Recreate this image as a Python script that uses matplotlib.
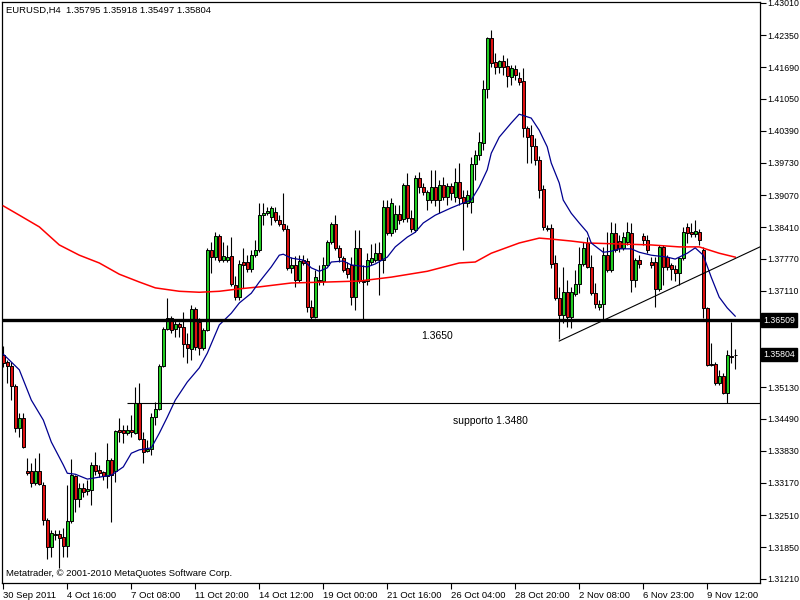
# EURUSD H4 candlestick chart, MetaTrader style
import matplotlib
matplotlib.use("Agg")
import matplotlib.pyplot as plt
from matplotlib.transforms import blended_transform_factory

# OHLC values, one per H4 bar
opens = [1.3579, 1.3565, 1.3557, 1.3516, 1.3430, 1.3450, 1.3341, 1.3341, 1.3317, 1.3341,
         1.3313, 1.3241, 1.3186, 1.3212, 1.3212, 1.3206, 1.3188, 1.3239, 1.3331, 1.3284,
         1.3307, 1.3300, 1.3303, 1.3354, 1.3344, 1.3339, 1.3331, 1.3364, 1.3341, 1.3426,
         1.3426, 1.3419, 1.3426, 1.3419, 1.3481, 1.3407, 1.3382, 1.3387, 1.3452, 1.3469,
         1.3557, 1.3633, 1.3655, 1.3633, 1.3643, 1.3637, 1.3602, 1.3592, 1.3674, 1.3647,
         1.3594, 1.3631, 1.3795, 1.3780, 1.3823, 1.3774, 1.3774, 1.3782, 1.3723, 1.3698,
         1.3770, 1.3770, 1.3756, 1.3784, 1.3795, 1.3866, 1.3870, 1.3862, 1.3872, 1.3856,
         1.3848, 1.3838, 1.3758, 1.3764, 1.3733, 1.3774, 1.3772, 1.3678, 1.3657, 1.3733,
         1.3731, 1.3764, 1.3811, 1.3848, 1.3799, 1.3778, 1.3758, 1.3764, 1.3698, 1.3799,
         1.3731, 1.3731, 1.3770, 1.3774, 1.3788, 1.3774, 1.3883, 1.3829, 1.3838, 1.3868,
         1.3858, 1.3928, 1.3860, 1.3836, 1.3942, 1.3924, 1.3897, 1.3897, 1.3924, 1.3897,
         1.3928, 1.3903, 1.3926, 1.3903, 1.3934, 1.3903, 1.3891, 1.3893, 1.3971, 1.3989,
         1.4014, 1.4125, 1.4229, 1.4180, 1.4170, 1.4182, 1.4172, 1.4149, 1.4166, 1.4147,
         1.4141, 1.4045, 1.4030, 1.4008, 1.3979, 1.3920, 1.3840, 1.3840, 1.3768, 1.3696,
         1.3661, 1.3708, 1.3657, 1.3704, 1.3725, 1.3766, 1.3809, 1.3760, 1.3706, 1.3678,
         1.3684, 1.3784, 1.3754, 1.3829, 1.3813, 1.3799, 1.3811, 1.3829, 1.3733, 1.3774,
         1.3823, 1.3815, 1.3770, 1.3770, 1.3715, 1.3801, 1.3780, 1.3764, 1.3756, 1.3747,
         1.3778, 1.3842, 1.3831, 1.3827, 1.3831, 1.3795, 1.3676, 1.3561, 1.3561, 1.3522,
         1.3536, 1.3501, 1.3577, 1.35795]
highs = [1.3598, 1.3569, 1.3565, 1.3520, 1.3460, 1.3460, 1.3368, 1.3358, 1.3368, 1.3378,
         1.3319, 1.3245, 1.3221, 1.3221, 1.3221, 1.3225, 1.3313, 1.3366, 1.3333, 1.3317,
         1.3317, 1.3323, 1.3360, 1.3380, 1.3354, 1.3341, 1.3399, 1.3368, 1.3426, 1.3450,
         1.3436, 1.3436, 1.3456, 1.3514, 1.3522, 1.3421, 1.3405, 1.3460, 1.3483, 1.3561,
         1.3637, 1.3696, 1.3659, 1.3651, 1.3647, 1.3667, 1.3624, 1.3682, 1.3678, 1.3655,
         1.3635, 1.3799, 1.3811, 1.3831, 1.3827, 1.3811, 1.3805, 1.3821, 1.3741, 1.3774,
         1.3799, 1.3784, 1.3795, 1.3815, 1.3891, 1.3891, 1.3883, 1.3885, 1.3883, 1.3866,
         1.3911, 1.3846, 1.3780, 1.3782, 1.3784, 1.3784, 1.3778, 1.3692, 1.3754, 1.3764,
         1.3780, 1.3815, 1.3852, 1.3866, 1.3805, 1.3782, 1.3770, 1.3780, 1.3836, 1.3836,
         1.3764, 1.3788, 1.3807, 1.3809, 1.3811, 1.3897, 1.3897, 1.3901, 1.3887, 1.3887,
         1.3932, 1.3952, 1.3877, 1.3948, 1.3954, 1.3932, 1.3918, 1.3959, 1.3959, 1.3938,
         1.3944, 1.3932, 1.3932, 1.3963, 1.3973, 1.3918, 1.3918, 1.3985, 1.3999, 1.4036,
         1.4143, 1.4231, 1.4246, 1.4198, 1.4184, 1.4194, 1.4188, 1.4174, 1.4174, 1.4159,
         1.4168, 1.4049, 1.4051, 1.4024, 1.3987, 1.3928, 1.3846, 1.3848, 1.3784, 1.3719,
         1.3760, 1.3733, 1.3719, 1.3754, 1.3801, 1.3811, 1.3821, 1.3784, 1.3727, 1.3692,
         1.3801, 1.3831, 1.3852, 1.3850, 1.3825, 1.3831, 1.3852, 1.3850, 1.3778, 1.3784,
         1.3829, 1.3825, 1.3780, 1.3780, 1.3805, 1.3805, 1.3784, 1.3768, 1.3764, 1.3780,
         1.3842, 1.3850, 1.3850, 1.3856, 1.3838, 1.3801, 1.3678, 1.3604, 1.3565, 1.3549,
         1.3542, 1.3590, 1.3647, 1.35918]
lows = [1.3555, 1.3522, 1.3487, 1.3421, 1.3411, 1.3389, 1.3333, 1.3309, 1.3313, 1.3313,
        1.3231, 1.3161, 1.3165, 1.3200, 1.3143, 1.3165, 1.3165, 1.3235, 1.3257, 1.3268,
        1.3288, 1.3292, 1.3272, 1.3333, 1.3329, 1.3323, 1.3307, 1.3237, 1.3319, 1.3401,
        1.3399, 1.3415, 1.3411, 1.3417, 1.3405, 1.3358, 1.3380, 1.3374, 1.3436, 1.3467,
        1.3555, 1.3631, 1.3624, 1.3616, 1.3616, 1.3575, 1.3563, 1.3569, 1.3590, 1.3579,
        1.3590, 1.3628, 1.3747, 1.3774, 1.3770, 1.3770, 1.3770, 1.3721, 1.3692, 1.3692,
        1.3717, 1.3749, 1.3749, 1.3780, 1.3790, 1.3846, 1.3866, 1.3846, 1.3852, 1.3844,
        1.3833, 1.3754, 1.3747, 1.3719, 1.3729, 1.3764, 1.3667, 1.3651, 1.3655, 1.3723,
        1.3723, 1.3762, 1.3807, 1.3795, 1.3770, 1.3749, 1.3737, 1.3682, 1.3672, 1.3727,
        1.3651, 1.3723, 1.3764, 1.3770, 1.3702, 1.3747, 1.3825, 1.3823, 1.3831, 1.3848,
        1.3852, 1.3852, 1.3831, 1.3831, 1.3911, 1.3907, 1.3877, 1.3891, 1.3885, 1.3870,
        1.3897, 1.3887, 1.3897, 1.3893, 1.3887, 1.3795, 1.3883, 1.3870, 1.3938, 1.3979,
        1.3999, 1.4106, 1.4170, 1.4155, 1.4157, 1.4153, 1.4129, 1.4133, 1.4143, 1.4133,
        1.4026, 1.3973, 1.3973, 1.3969, 1.3901, 1.3836, 1.3833, 1.3758, 1.3692, 1.3612,
        1.3645, 1.3637, 1.3635, 1.3700, 1.3706, 1.3762, 1.3758, 1.3702, 1.3676, 1.3672,
        1.3651, 1.3749, 1.3749, 1.3790, 1.3790, 1.3795, 1.3805, 1.3708, 1.3719, 1.3758,
        1.3805, 1.3788, 1.3758, 1.3678, 1.3710, 1.3723, 1.3754, 1.3733, 1.3731, 1.3723,
        1.3774, 1.3809, 1.3821, 1.3821, 1.3805, 1.3655, 1.3557, 1.3557, 1.3518, 1.3518,
        1.3499, 1.3481, 1.3563, 1.35497]
closes = [1.3563, 1.3557, 1.3516, 1.3430, 1.3450, 1.3391, 1.3337, 1.3317, 1.3341, 1.3315,
          1.3241, 1.3186, 1.3214, 1.3210, 1.3204, 1.3188, 1.3239, 1.3333, 1.3284, 1.3307,
          1.3298, 1.3305, 1.3354, 1.3341, 1.3337, 1.3331, 1.3364, 1.3333, 1.3423, 1.3421,
          1.3419, 1.3426, 1.3421, 1.3481, 1.3407, 1.3380, 1.3387, 1.3452, 1.3469, 1.3557,
          1.3633, 1.3655, 1.3631, 1.3643, 1.3637, 1.3602, 1.3594, 1.3674, 1.3596, 1.3594,
          1.3631, 1.3795, 1.3780, 1.3823, 1.3774, 1.3782, 1.3780, 1.3725, 1.3698, 1.3766,
          1.3764, 1.3756, 1.3784, 1.3795, 1.3866, 1.3870, 1.3874, 1.3881, 1.3856, 1.3848,
          1.3838, 1.3758, 1.3764, 1.3733, 1.3772, 1.3768, 1.3678, 1.3657, 1.3739, 1.3731,
          1.3764, 1.3811, 1.3848, 1.3799, 1.3780, 1.3754, 1.3745, 1.3698, 1.3799, 1.3731,
          1.3729, 1.3774, 1.3778, 1.3788, 1.3774, 1.3883, 1.3829, 1.3891, 1.3868, 1.3856,
          1.3928, 1.3860, 1.3838, 1.3942, 1.3924, 1.3913, 1.3913, 1.3924, 1.3897, 1.3928,
          1.3903, 1.3926, 1.3911, 1.3934, 1.3901, 1.3891, 1.3907, 1.3971, 1.3989, 1.4016,
          1.4125, 1.4229, 1.4178, 1.4170, 1.4182, 1.4170, 1.4151, 1.4168, 1.4153, 1.4139,
          1.4045, 1.4026, 1.4008, 1.3979, 1.3918, 1.3842, 1.3838, 1.3766, 1.3696, 1.3661,
          1.3708, 1.3657, 1.3708, 1.3725, 1.3766, 1.3799, 1.3760, 1.3706, 1.3684, 1.3684,
          1.3784, 1.3754, 1.3829, 1.3795, 1.3799, 1.3821, 1.3831, 1.3733, 1.3774, 1.3766,
          1.3815, 1.3795, 1.3764, 1.3715, 1.3801, 1.3760, 1.3760, 1.3756, 1.3747, 1.3778,
          1.3831, 1.3829, 1.3827, 1.3833, 1.3815, 1.3676, 1.3559, 1.3559, 1.3522, 1.3536,
          1.3501, 1.3579, 1.3575, 1.35804]

# Moving averages, read at sample bars
blue_idx = [0, 4, 7, 10, 12, 15, 16, 18, 21, 24, 27, 30, 32, 34, 37, 39, 41, 43, 46, 49,
            51, 54, 57, 59, 62, 64, 67, 69, 70, 72, 75, 77, 79, 81, 82, 85, 87, 89, 91, 93,
            96, 98, 101, 103, 105, 108, 112, 115, 117, 119, 121, 122, 124, 127, 129, 132,
            134, 136, 137, 139, 140, 142, 144, 146, 147, 150, 152, 154, 157, 159, 162, 166,
            168, 171, 173, 175, 177, 179, 181, 183]
blue_val = [1.3581, 1.3549, 1.3487, 1.3446, 1.3401, 1.3354, 1.3337, 1.3335, 1.3325, 1.3329,
            1.3333, 1.3350, 1.3378, 1.3385, 1.3389, 1.3419, 1.3452, 1.3487, 1.3524, 1.3553,
            1.3583, 1.3641, 1.3665, 1.3686, 1.3706, 1.3729, 1.3760, 1.3784, 1.3786, 1.3778,
            1.3774, 1.3758, 1.3751, 1.3758, 1.3770, 1.3772, 1.3764, 1.3762, 1.3760, 1.3766,
            1.3780, 1.3801, 1.3821, 1.3831, 1.3850, 1.3866, 1.3881, 1.3891, 1.3897, 1.3924,
            1.3959, 1.3993, 1.4026, 1.4055, 1.4073, 1.4065, 1.4040, 1.4006, 1.3973, 1.3932,
            1.3897, 1.3870, 1.3850, 1.3831, 1.3809, 1.3790, 1.3792, 1.3797, 1.3797, 1.3790,
            1.3784, 1.3780, 1.3776, 1.3788, 1.3799, 1.3784, 1.3739, 1.3698, 1.3676, 1.3659]
red_idx = [0, 4, 9, 14, 19, 24, 29, 34, 38, 44, 49, 54, 59, 64, 72, 81, 89, 97, 106, 114,
           118, 122, 127, 129, 134, 137, 142, 146, 154, 162, 169, 174, 179, 183]
red_val = [1.3885, 1.3866, 1.3842, 1.3805, 1.3784, 1.3768, 1.3745, 1.3729, 1.3717, 1.3710,
           1.3708, 1.3710, 1.3715, 1.3719, 1.3727, 1.3729, 1.3731, 1.3739, 1.3751, 1.3768,
           1.3770, 1.3788, 1.3803, 1.3809, 1.3819, 1.3817, 1.3813, 1.3809, 1.3807, 1.3805,
           1.3801, 1.3801, 1.3788, 1.3780]

# Drawn objects
resistance = 1.3651
support = 1.3480
support_start = 31
trend_x = [139, 189.2]
trend_y = [1.3608, 1.3801]

tick_idx = [0, 16, 32, 48, 64, 80, 96, 112, 128, 144, 160, 176]
tick_labels = ["30 Sep 2011", "4 Oct 16:00", "7 Oct 08:00", "11 Oct 20:00", "14 Oct 12:00",
               "19 Oct 00:00", "21 Oct 16:00", "26 Oct 04:00", "28 Oct 20:00", "2 Nov 08:00",
               "6 Nov 23:00", "9 Nov 12:00"]
price_ticks = [1.43010, 1.42350, 1.41690, 1.41050, 1.40390, 1.39730, 1.39070, 1.38410,
               1.37770, 1.37110, 1.35130, 1.34490, 1.33830, 1.33170, 1.32510, 1.31850, 1.31210]

FONT = "Liberation Sans"
FS = 6.8
YFS = 6.3

fig = plt.figure(figsize=(8, 6), dpi=100)
ax = fig.add_axes([2 / 800, 17 / 600, 758 / 800, 581 / 600])

# Candles: wicks first, then bodies
n = len(opens)
xs = list(range(n))
ax.vlines(xs, lows, highs, color="black", linewidth=0.8, zorder=3)
body_low = [min(o, c) for o, c in zip(opens, closes)]
body_h = [abs(c - o) for o, c in zip(opens, closes)]
colors = ["#22cc22" if c > o else "#dd1111" for o, c in zip(opens, closes)]
ax.bar(xs, body_h, bottom=body_low, width=0.7, color=colors,
       edgecolor="black", linewidth=0.7, zorder=4)

# Moving averages
ax.plot(red_idx, red_val, color="#ff0000", linewidth=1.1, zorder=5)
ax.plot(blue_idx, blue_val, color="#000090", linewidth=0.9, zorder=5)

# Support / resistance and trend line
ax.axhline(resistance, color="black", linewidth=2.4, zorder=6)
ax.hlines(support, support_start, 200, color="black", linewidth=0.8, zorder=6)
ax.plot(trend_x, trend_y, color="black", linewidth=0.8, zorder=6)

ax.text(108.4, 1.3618, "1.3650", fontsize=7.5, family=FONT, ha="center", va="center")
ax.text(121.7, 1.3444, "supporto 1.3480", fontsize=7.5, family=FONT, ha="center", va="center")

ax.set_xlim(-0.33, 189.2)
ax.set_ylim(1.3112, 1.4303)

# Axes in MetaTrader style
ax.yaxis.tick_right()
ax.set_yticks(price_ticks)
ax.set_yticklabels(["%.5f" % p for p in price_ticks])
ax.set_xticks(tick_idx)
ax.set_xticklabels(tick_labels)
ax.tick_params(axis="x", direction="out", length=4, width=0.8, labelsize=FS, pad=1.5)
ax.tick_params(axis="y", direction="out", length=4, width=0.8, labelsize=YFS, pad=1.2)
for lab in ax.get_xticklabels():
    lab.set_horizontalalignment("left")
    lab.set_family(FONT)
for lab in ax.get_yticklabels():
    lab.set_family(FONT)
for sp in ax.spines.values():
    sp.set_linewidth(0.9)
    sp.set_color("black")

# Price boxes on the right scale
trans = blended_transform_factory(ax.transAxes, ax.transData)
for val, txt in [(1.3651, "1.36509"), (1.35804, "1.35804")]:
    ax.text(1.004, val, txt, transform=trans, ha="left", va="center", color="white",
            fontsize=YFS, family=FONT, zorder=10, clip_on=False,
            bbox=dict(boxstyle="square,pad=0.25", facecolor="black", edgecolor="black"))

fig.text(6 / 800, 1 - 10 / 600, "EURUSD,H4  1.35795 1.35918 1.35497 1.35804",
         fontsize=FS, family=FONT, va="center", ha="left")
fig.text(6 / 800, 1 - 574 / 600, "Metatrader, \u00a9 2001-2010 MetaQuotes Software Corp.",
         fontsize=FS, family=FONT, va="center", ha="left")

fig.savefig("out.png", dpi=100)
